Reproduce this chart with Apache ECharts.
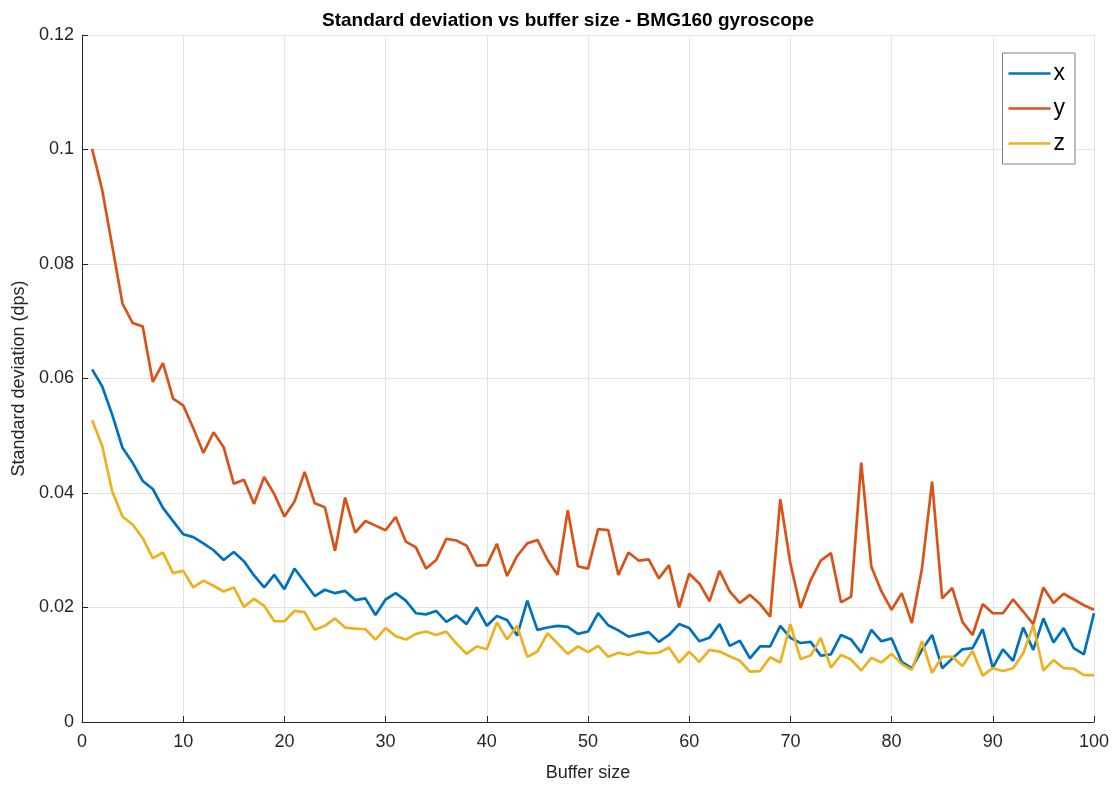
<!DOCTYPE html>
<html>
<head>
<meta charset="utf-8">
<script src="https://cdn.jsdelivr.net/npm/echarts@6/dist/echarts.min.js"></script>
<style>
  html, body { margin: 0; padding: 0; background: #fff; }
  #chart { width: 1116px; height: 787px; }
</style>
</head>
<body>
<div id="chart"></div>
<script>
// Buffer sizes (x) and per-axis standard deviation (dps)
const bufferSizes = [
  1, 2, 3, 4, 5, 6, 7, 8, 9, 10, 11, 12, 13, 14, 15, 16, 17, 18, 19, 20,
  21, 22, 23, 24, 25, 26, 27, 28, 29, 30, 31, 32, 33, 34, 35, 36, 37, 38, 39, 40,
  41, 42, 43, 44, 45, 46, 47, 48, 49, 50, 51, 52, 53, 54, 55, 56, 57, 58, 59, 60,
  61, 62, 63, 64, 65, 66, 67, 68, 69, 70, 71, 72, 73, 74, 75, 76, 77, 78, 79, 80,
  81, 82, 83, 84, 85, 86, 87, 88, 89, 90, 91, 92, 93, 94, 95, 96, 97, 98, 99, 100
];

const stdX = [
  0.0616, 0.0586, 0.0536, 0.0479, 0.0453, 0.0421, 0.0407, 0.0374, 0.0351, 0.0328,
  0.0323, 0.0312, 0.0300, 0.0283, 0.0297, 0.0281, 0.0256, 0.0235, 0.0257, 0.0232,
  0.0268, 0.0244, 0.0220, 0.0231, 0.0225, 0.0229, 0.0213, 0.0216, 0.0187, 0.0214,
  0.0225, 0.0212, 0.0190, 0.0188, 0.0194, 0.0175, 0.0186, 0.0171, 0.0200, 0.0168,
  0.0185, 0.0178, 0.0151, 0.0212, 0.0161, 0.0165, 0.0168, 0.0166, 0.0154, 0.0158,
  0.0190, 0.0169, 0.0160, 0.0149, 0.0153, 0.0157, 0.0140, 0.0152, 0.0171, 0.0164,
  0.0141, 0.0147, 0.0171, 0.0133, 0.0142, 0.0111, 0.0132, 0.0132, 0.0168, 0.0147,
  0.0138, 0.0140, 0.0116, 0.0118, 0.0152, 0.0144, 0.0121, 0.0161, 0.0141, 0.0146,
  0.0105, 0.0094, 0.0126, 0.0152, 0.0094, 0.0111, 0.0127, 0.0129, 0.0162, 0.0095,
  0.0127, 0.0107, 0.0165, 0.0126, 0.0181, 0.0139, 0.0164, 0.0129, 0.0118, 0.0190
];

const stdY = [
  0.1001, 0.0929, 0.0830, 0.0731, 0.0697, 0.0691, 0.0594, 0.0627, 0.0565, 0.0553,
  0.0513, 0.0470, 0.0506, 0.0480, 0.0416, 0.0423, 0.0381, 0.0428, 0.0398, 0.0359,
  0.0385, 0.0437, 0.0382, 0.0375, 0.0299, 0.0392, 0.0331, 0.0351, 0.0343, 0.0335,
  0.0358, 0.0315, 0.0305, 0.0268, 0.0283, 0.0320, 0.0317, 0.0308, 0.0273, 0.0274,
  0.0311, 0.0255, 0.0290, 0.0312, 0.0318, 0.0283, 0.0257, 0.0370, 0.0272, 0.0268,
  0.0337, 0.0335, 0.0257, 0.0296, 0.0282, 0.0284, 0.0251, 0.0274, 0.0200, 0.0259,
  0.0242, 0.0211, 0.0264, 0.0228, 0.0208, 0.0222, 0.0206, 0.0184, 0.0389, 0.0277,
  0.0199, 0.0248, 0.0282, 0.0295, 0.0209, 0.0219, 0.0453, 0.0271, 0.0228, 0.0196,
  0.0225, 0.0173, 0.0268, 0.0420, 0.0216, 0.0234, 0.0175, 0.0152, 0.0206, 0.0190,
  0.0190, 0.0214, 0.0193, 0.0171, 0.0235, 0.0208, 0.0224, 0.0214, 0.0204, 0.0196
];

const stdZ = [
  0.0527, 0.0482, 0.0402, 0.0359, 0.0345, 0.0321, 0.0286, 0.0296, 0.0260, 0.0264,
  0.0235, 0.0247, 0.0238, 0.0228, 0.0235, 0.0201, 0.0215, 0.0203, 0.0176, 0.0176,
  0.0194, 0.0192, 0.0161, 0.0168, 0.0181, 0.0165, 0.0163, 0.0162, 0.0144, 0.0164,
  0.0150, 0.0144, 0.0154, 0.0158, 0.0152, 0.0158, 0.0137, 0.0119, 0.0132, 0.0127,
  0.0174, 0.0144, 0.0168, 0.0114, 0.0123, 0.0155, 0.0137, 0.0119, 0.0132, 0.0122,
  0.0133, 0.0114, 0.0121, 0.0117, 0.0123, 0.0120, 0.0121, 0.0130, 0.0104, 0.0123,
  0.0105, 0.0126, 0.0123, 0.0115, 0.0107, 0.0088, 0.0089, 0.0113, 0.0104, 0.0171,
  0.0110, 0.0116, 0.0147, 0.0095, 0.0117, 0.0109, 0.0090, 0.0112, 0.0104, 0.0119,
  0.0101, 0.0091, 0.0141, 0.0086, 0.0114, 0.0114, 0.0098, 0.0124, 0.0081, 0.0094,
  0.0089, 0.0094, 0.0120, 0.0169, 0.0090, 0.0108, 0.0094, 0.0093, 0.0082, 0.0082
];

const seriesNames = ['x', 'y', 'z'];
const seriesColors = ['#0072BD', '#D95319', '#EDB120'];
const seriesValues = [stdX, stdY, stdZ];

const FONT = '"Liberation Sans", Arial, Helvetica, sans-serif';
const TEXT = '#262626';

const chart = echarts.init(document.getElementById('chart'), null, { renderer: 'canvas' });

const pairs = vals => bufferSizes.map((b, i) => [b, vals[i]]);

chart.setOption({
  backgroundColor: '#ffffff',
  animation: false,
  title: {
    text: 'Standard deviation vs buffer size - BMG160 gyroscope',
    left: 563,
    top: 6,
    textAlign: 'center',
    textStyle: { fontFamily: FONT, fontSize: 19, fontWeight: 'bold', color: '#000' }
  },
  grid: { left: 82, right: 22, top: 35, bottom: 65, containLabel: false, outerBoundsMode: 'none' },
  legend: {
    data: seriesNames,
    orient: 'vertical',
    right: 41,
    top: 53,
    width: 72,
    padding: [9, 10, 9, 6],
    itemGap: 12,
    itemWidth: 42,
    itemHeight: 23,
    icon: 'path://M0,10.2 L42,10.2 L42,12.8 L0,12.8 Z',
    borderColor: '#7f7f7f',
    borderWidth: 1,
    backgroundColor: '#ffffff',
    textStyle: { fontFamily: FONT, fontSize: 23, color: '#000', padding: [0, 0, 0, -2] }
  },
  xAxis: {
    type: 'value',
    min: 0,
    max: 100,
    interval: 10,
    name: 'Buffer size',
    nameLocation: 'middle',
    nameGap: 42,
    nameTextStyle: { fontFamily: FONT, fontSize: 18, color: TEXT },
    axisLine: { show: true, onZero: false, lineStyle: { color: TEXT, width: 1 } },
    axisTick: { show: true, inside: true, length: 6, lineStyle: { color: TEXT } },
    axisLabel: { fontFamily: FONT, fontSize: 18, color: TEXT, margin: 11 },
    splitLine: { show: true, lineStyle: { color: '#e3e3e3', width: 1 } }
  },
  yAxis: {
    type: 'value',
    min: 0,
    max: 0.12,
    interval: 0.02,
    name: 'Standard deviation (dps)',
    nameLocation: 'middle',
    nameGap: 51,
    nameTextStyle: { fontFamily: FONT, fontSize: 18, color: TEXT },
    axisLine: { show: true, onZero: false, lineStyle: { color: TEXT, width: 1 } },
    axisTick: { show: true, inside: true, length: 6, lineStyle: { color: TEXT } },
    axisLabel: { fontFamily: FONT, fontSize: 18, color: TEXT, margin: 8 },
    splitLine: { show: true, lineStyle: { color: '#e3e3e3', width: 1 } }
  },
  series: seriesNames.map((name, k) => ({
    name: name,
    type: 'line',
    data: pairs(seriesValues[k]),
    showSymbol: false,
    symbol: 'none',
    lineStyle: { color: seriesColors[k], width: 2.7 },
    itemStyle: { color: seriesColors[k] },
    z: 2 + k
  }))
});
</script>
</body>
</html>
